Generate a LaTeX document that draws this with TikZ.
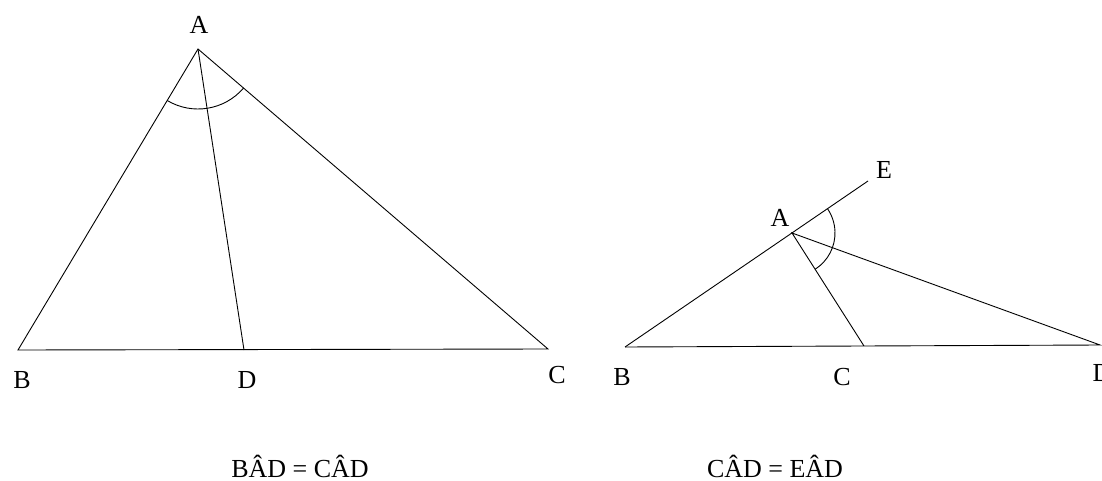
\documentclass[tikz,border=0pt]{standalone}
\usepackage{fontspec}
\setmainfont{Liberation Serif}
\usetikzlibrary{angles}

\begin{document}
\begin{tikzpicture}[x=1pt, y=-1pt, line width=0.9pt,
    lbl/.style={font=\fontsize{26}{30}\selectfont, inner sep=0pt}]
    \useasboundingbox (0,0) rectangle (1102,481);

    % left triangle
    \coordinate (A1) at (198,49);
    \coordinate (B1) at (18,350);
    \coordinate (C1) at (548,349);
    \coordinate (D1) at (244,350);
    \draw (B1) -- (A1) -- (C1) -- cycle;
    \draw (A1) -- (D1);
    \pic[draw, angle radius=60pt] {angle = B1--A1--C1};
    \node[lbl] (lA1) at (199,25) {A};
    \node[lbl] (lB1) at (22,380) {B};
    \node[lbl] (lD1) at (247,380) {D};
    \node[lbl] (lC1) at (557,375) {C};

    % right triangle
    \coordinate (A2) at (792,233);
    \coordinate (B2) at (625,347);
    \coordinate (C2) at (864,346);
    \coordinate (D2) at (1100,345);
    \coordinate (E2) at (868,181);
    \draw (B2) -- (E2);
    \draw (B2) -- (D2) -- (A2) -- (C2);
    \pic[draw, angle radius=43pt] {angle = C2--A2--E2};
    \node[lbl] (lA2) at (780,218) {A};
    \node[lbl] (lE2) at (884,170) {E};
    \node[lbl] (lB2) at (622,377) {B};
    \node[lbl] (lC2) at (842,377) {C};
    \node[lbl] (lD2) at (1102,373) {D};

    \node[lbl] (eq1) at (300,466) {B\^AD = C\^AD};
    \node[lbl] (eq2) at (775,466) {C\^AD = E\^AD};
\end{tikzpicture}
\end{document}
